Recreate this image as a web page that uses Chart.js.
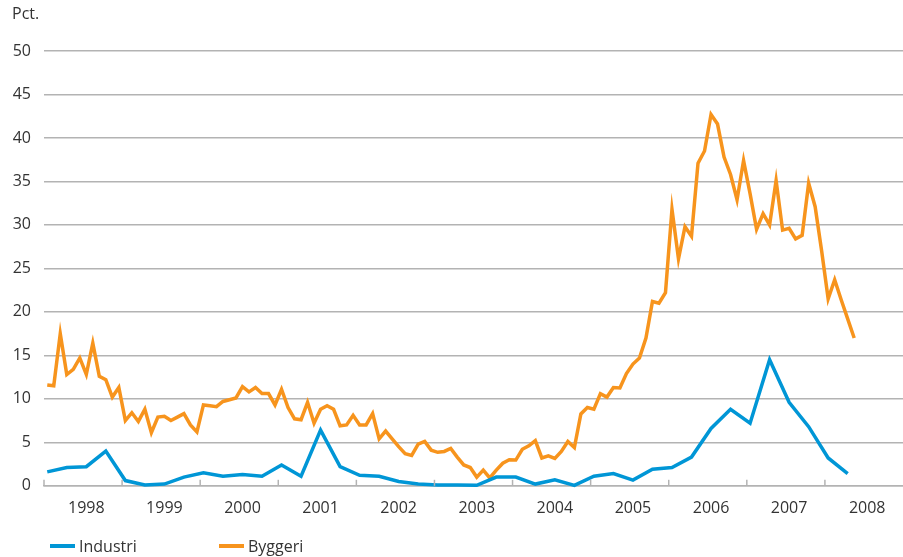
<!DOCTYPE html>
<html>
<head>
<meta charset="utf-8">
<script src="https://cdn.jsdelivr.net/npm/chart.js@4/dist/chart.umd.min.js"></script>
<style>
  body { margin: 0; background: #fff; font-family: "Open Sans", sans-serif; color: #333; }
  #wrap { position: relative; width: 903px; height: 557px; }
  #unit { position: absolute; left: 12px; top: 3px; font-size: 16px; line-height: 20px; }
  .key { position: absolute; top: 536px; font-size: 16px; line-height: 20px; }
  .key span { position: absolute; top: 8px; left: -29px; width: 25px; height: 4px; }
</style>
</head>
<body>
<div id="wrap">
  <canvas id="chart" width="903" height="557"></canvas>
  <div id="unit">Pct.</div>
  <div class="key" style="left:79px"><span style="background:#0096d6"></span>Industri</div>
  <div class="key" style="left:248px"><span style="background:#f7941d"></span>Byggeri</div>
</div>
<script>
"use strict";

// year labels on the x axis
const years = ["1998", "1999", "2000", "2001", "2002", "2003", "2004", "2005", "2006", "2007", "2008"];

// Byggeri, monthly from Jan 1998
const byggeri = [
  11.6, 11.5, 17.5, 12.8, 13.4, 14.7, 12.8, 16.4, 12.6, 12.2, 10.2, 11.3,
  7.5, 8.4, 7.4, 8.8, 6.1, 7.9, 8.0, 7.5, 7.9, 8.3, 7.0, 6.2,
  9.3, 9.2, 9.1, 9.7, 9.9, 10.1, 11.4, 10.8, 11.3, 10.6, 10.6, 9.3,
  11.1, 9.0, 7.7, 7.6, 9.6, 7.2, 8.8, 9.2, 8.8, 6.9, 7.0, 8.1,
  7.0, 7.0, 8.3, 5.4, 6.3, 5.4, 4.5, 3.7, 3.5, 4.8, 5.1, 4.1,
  3.85, 3.95, 4.3, 3.3, 2.4, 2.1, 1.0, 1.8, 0.9, 1.8, 2.6, 3.0,
  2.96, 4.2, 4.6, 5.2, 3.2, 3.45, 3.15, 3.95, 5.1, 4.4, 8.26, 9.0,
  8.8, 10.6, 10.2, 11.3, 11.25, 12.9, 14.0, 14.7, 17.0, 21.2, 21.0, 22.2,
  31.8, 26.1, 29.8, 28.7, 37.1, 38.5, 42.7, 41.6, 37.8, 35.8, 32.9, 37.4,
  33.6, 29.5, 31.3, 30.0, 35.1, 29.4, 29.6, 28.4, 28.8, 34.8, 32.1, 27.0,
  21.5, 23.7, 21.4, 19.2, 17.0
];

// Industri, quarterly from Q1 1998
const industri = [
  1.6, 2.1, 2.2, 4.0,
  0.6, 0.1, 0.2, 1.0,
  1.5, 1.1, 1.3, 1.1,
  2.4, 1.1, 6.4, 2.2,
  1.2, 1.1, 0.5, 0.2,
  0.1, 0.1, 0.05, 1.0,
  1.0, 0.2, 0.7, 0.05,
  1.1, 1.4, 0.65, 1.9,
  2.1, 3.3, 6.6, 8.8,
  7.2, 14.5, 9.6, 6.8,
  3.2, 1.4
];

const gridColor = "#b3b3b3";

const innerTicks = {
  id: "innerTicks",
  afterDatasetsDraw(chart) {
    const x = chart.scales.x;
    const ctx = chart.ctx;
    const bottom = chart.chartArea.bottom;
    ctx.save();
    ctx.strokeStyle = gridColor;
    ctx.lineWidth = 1.5;
    for (let i = 0; i < years.length; i++) {
      const px = x.getPixelForValue(i * 12 - 0.5);
      ctx.beginPath();
      ctx.moveTo(px, bottom - 6);
      ctx.lineTo(px, bottom);
      ctx.stroke();
    }
    ctx.restore();
  }
};

new Chart(document.getElementById("chart"), {
  type: "line",
  data: {
    datasets: [
      {
        label: "Industri",
        data: industri.map((v, i) => ({x: i * 3, y: v})),
        borderColor: "#0096d6",
        borderWidth: 3.5,
        pointRadius: 0,
        clip: false
      },
      {
        label: "Byggeri",
        data: byggeri.map((v, i) => ({x: i, y: v})),
        borderColor: "#f7941d",
        borderWidth: 3.5,
        pointRadius: 0,
        clip: false
      }
    ]
  },
  options: {
    responsive: false,
    animation: false,
    layout: { padding: { top: 51, bottom: 26, left: 0, right: 0 } },
    scales: {
      x: {
        type: "linear",
        min: -0.5,
        max: 131.5,
        afterBuildTicks: (scale) => {
          scale.ticks = years.map((y, i) => ({value: i * 12 + 6}));
        },
        ticks: {
          autoSkip: false,
          maxRotation: 0,
          padding: 13,
          color: "#333",
          font: { family: "Open Sans", size: 16 },
          callback: (value) => years[Math.floor(value / 12)]
        },
        grid: { display: false, drawTicks: false },
        border: { display: true, color: gridColor, width: 1.5 }
      },
      y: {
        min: 0,
        max: 50,
        afterFit: (scale) => { scale.width = 44; },
        ticks: {
          stepSize: 5,
          padding: 13,
          color: "#333",
          font: { family: "Open Sans", size: 16 }
        },
        grid: { color: gridColor, lineWidth: 1.5, drawTicks: false },
        border: { display: false }
      }
    },
    plugins: {
      legend: { display: false },
      tooltip: { enabled: false }
    }
  },
  plugins: [innerTicks]
});
</script>
</body>
</html>
